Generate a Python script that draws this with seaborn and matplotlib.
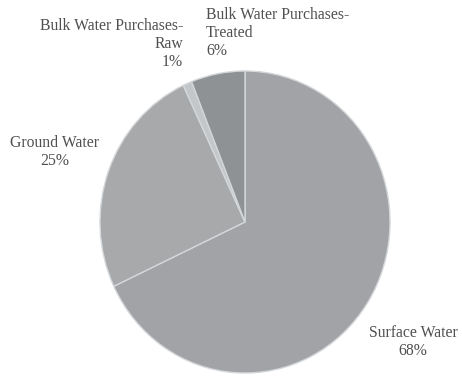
import matplotlib
matplotlib.use("Agg")
import matplotlib.pyplot as plt
import seaborn as sns

categories = ["Surface Water", "Ground Water", "Bulk Water Purchases-\nRaw", "Bulk Water Purchases-\nTreated"]
values = [68, 25, 1, 6]
colors = ["#a1a3a6", "#a8a9aa", "#c4c7ca", "#8f9295"]

sns.set_theme(style="white")
plt.rcParams['font.family'] = ['Liberation Serif', 'DejaVu Serif']

W, H = 462, 377
fig = plt.figure(figsize=(W / 100, H / 100), dpi=100)
ax = fig.add_axes([0, 0, 1, 1])

wedges, _ = ax.pie(values, colors=colors, startangle=90, counterclock=False,
                   radius=1, center=(0, 0),
                   wedgeprops=dict(edgecolor="#d4d7da", linewidth=1.0))
ax.set_aspect('auto')
cx, cy, rx, ry = 245, 222, 145, 151
ax.set_xlim((0 - cx) / rx, (W - cx) / rx)
ax.set_ylim((cy - H) / ry, (cy - 0) / ry)
ax.axis('off')

tc = "#505050"
fs = 11.3
def lab(i):
    return f"{categories[i]}\n{values[i]}%"

def ft(x, y, s, ha):
    fig.text(x / W, 1 - y / H, s, ha=ha, va='top', fontsize=fs, color=tc,
             linespacing=1.15, multialignment=ha)

ft(183, 18, lab(2), 'right')
ft(206, 7, lab(3), 'left')
ft(55, 135, lab(1), 'center')
ft(413, 325, lab(0), 'center')

fig.savefig("out.png", dpi=100)
